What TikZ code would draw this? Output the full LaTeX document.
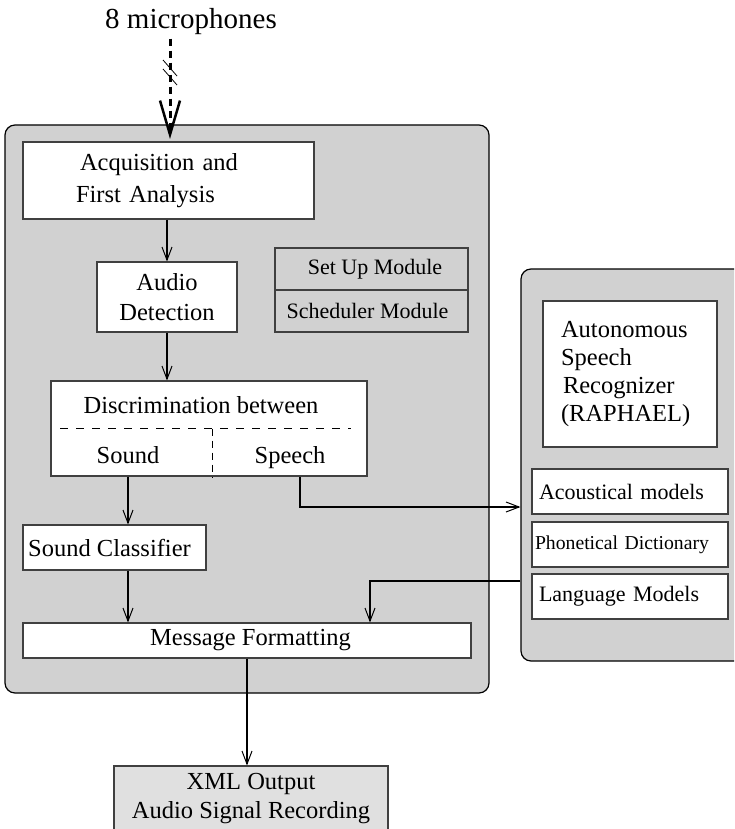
\documentclass[tikz,border=0pt]{standalone}
\usepackage{fontspec}
\setmainfont{Liberation Serif}
\usetikzlibrary{arrows.meta}

\begin{document}
\begin{tikzpicture}[x=1pt, y=-1pt,
    panel/.style={draw=black, line width=1.2pt, fill=black!18, rounded corners=10pt},
    box/.style={draw=black!75, line width=1.1pt, fill=white, inner sep=0pt, align=center, font=\fontsize{24.5}{30}\selectfont},
    graybox/.style={box, fill=black!18, font=\fontsize{22}{26}\selectfont},
    smallbox/.style={box, align=left, inner xsep=7pt, font=\fontsize{22}{26}\selectfont},
    lbl/.style={anchor=base, font=\fontsize{24.5}{30}\selectfont},
    flow/.style={line width=2pt, -{Straight Barb[length=13pt, width=10pt, line width=1pt]}},
    wire/.style={line width=2.6pt, -{Straight Barb[length=13pt, width=10pt, line width=1pt]}},
    micro/.style={line width=3pt, dash pattern=on 7pt off 5pt, -{Straight Barb[length=34pt, width=20pt, line width=2.5pt]}}]

    \clip (0,0) rectangle (734,829);

    \node[panel, minimum width=484pt, minimum height=568pt] (front) at (247,409) {};
    \node[panel, minimum width=224pt, minimum height=392pt] (asrpanel) at (633,465) {};

    \node[font=\fontsize{29}{34}\selectfont] (mics) at (191,22) {8 microphones};
    \coordinate (micin) at (170,139);
    \coordinate (cut) at (170,72.5);

    \node[box, align=left, text width=185pt, inner xsep=53pt, minimum height=77pt, font=\fontsize{24.5}{32}\selectfont] (acq) at (168.5,180.5) {\hspace*{4pt}Acquisition and\\First Analysis};
    \node[box, minimum width=140pt, minimum height=70pt] (det) at (167,297) {Audio\\Detection};

    \node[graybox, minimum width=193pt, minimum height=42pt] (setup) at (371.5,269) {\hspace*{7pt}Set Up Module};
    \node[graybox, minimum width=193pt, minimum height=42pt] (sched) at (371.5,311) {Scheduler Module\hspace*{8pt}};

    \node[box, minimum width=316pt, minimum height=95pt] (disc) at (209,428.5) {};
    \node[lbl] (discl) at (201,413) {Discrimination between};
    \node[lbl] (snd) at (128,463) {Sound};
    \node[lbl] (sph) at (290,463) {Speech};

    \node[box, minimum width=183pt, minimum height=45pt] (cls) at (114.5,547.5) {Sound Classifier\hspace*{10pt}};
    \node[box, minimum width=448pt, minimum height=35pt] (msg) at (247,640.5) {\hspace*{7pt}Message Formatting};
    \node[box, fill=black!12, minimum width=274pt, minimum height=66pt, font=\fontsize{24.5}{29}\selectfont] (xml) at (251,799) {XML Output\\Audio Signal Recording};

    \node[box, align=left, text width=138pt, inner xsep=18pt, minimum height=146pt, font=\fontsize{24.5}{28}\selectfont] (asr) at (630,374) {Autonomous\\Speech\\\hspace*{2pt}Recognizer\\(RAPHAEL)};
    \node[smallbox, text width=182pt, minimum height=45pt] (acm) at (630,491.5) {Acoustical models};
    \node[smallbox, text width=190pt, inner xsep=3pt, minimum height=45pt, font=\fontsize{19.7}{23}\selectfont] (phd) at (630,544.5) {Phonetical Dictionary};
    \node[smallbox, text width=182pt, minimum height=45pt] (lgm) at (630,596.5) {Language Models};

    \draw[line width=1pt, dash pattern=on 8pt off 8pt] ([xshift=10pt]disc.west) -- ([xshift=-17pt]disc.east);
    \draw[line width=1pt, dash pattern=on 7pt off 5pt] ([xshift=3pt]disc.center) -- ([xshift=3pt]disc.south);

    \draw[micro] (mics.south -| micin) -- (micin);
    \draw[line width=0.8pt] ([shift={(-7,-12.5)}]cut) -- ([shift={(7,3.5)}]cut);
    \draw[line width=0.8pt] ([shift={(-7,-3.5)}]cut) -- ([shift={(7,12.5)}]cut);

    \draw[flow] (acq.south -| det.north) -- (det.north);
    \draw[flow] (det.south) -- (det.south |- disc.north);
    \draw[flow] (disc.south -| snd) -- (cls.north -| snd);
    \draw[flow] (cls.south -| snd) -- (msg.north -| snd);
    \draw[wire] ([xshift=10pt]sph.base |- disc.south) |- (asrpanel.west |- 0,507);
    \draw[wire] (asrpanel.west |- 0,581) -| ([xshift=123pt]msg.north);
    \draw[flow] (msg.south) -- (msg.south |- xml.north);

\end{tikzpicture}
\end{document}
